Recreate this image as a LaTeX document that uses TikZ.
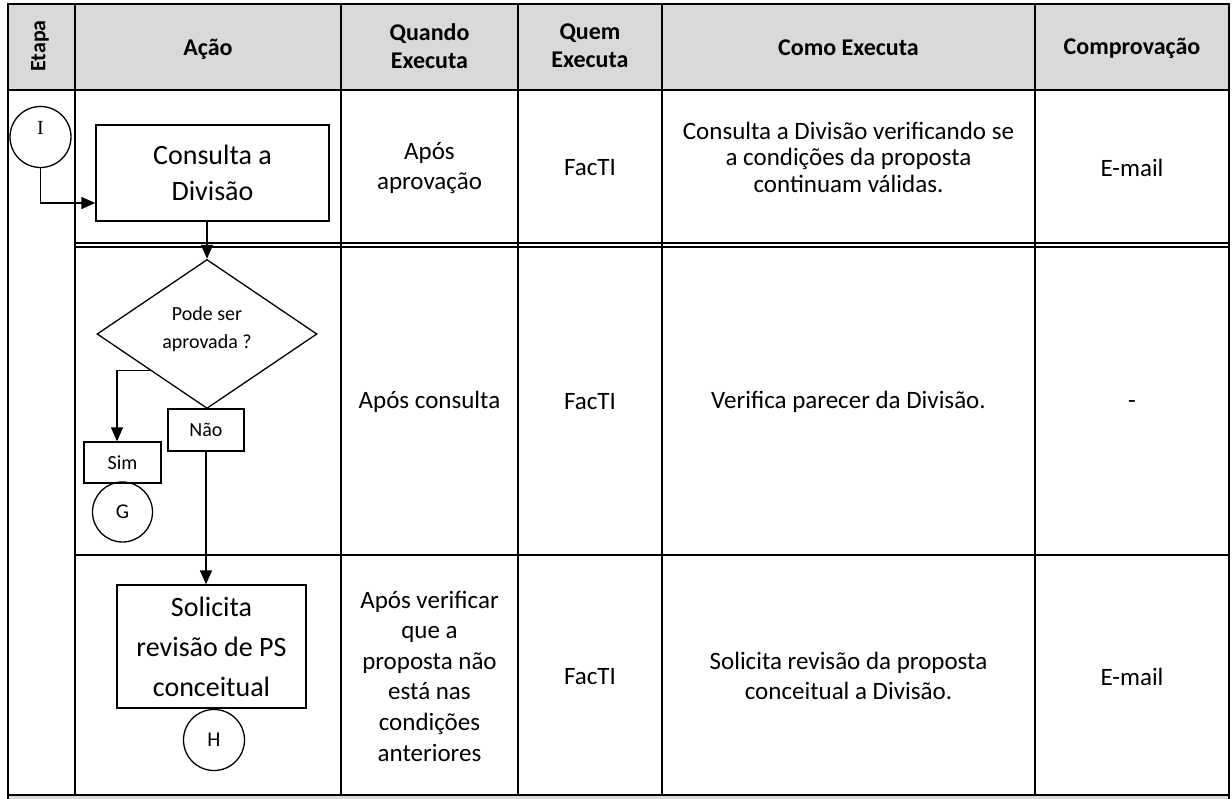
\documentclass[tikz,border=0pt]{standalone}
\usepackage{fontspec}
\setmainfont{Carlito}
\newfontfamily\serifI{Liberation Serif}
\usetikzlibrary{shapes.geometric,arrows.meta,calc}
\definecolor{hdrgray}{HTML}{D9D9D9}
\begin{document}
\begin{tikzpicture}[x=1pt,y=-1pt,
  gridline/.style={line width=2pt,line cap=rect},
  flowbox/.style={draw,line width=1.3pt,inner sep=0pt,align=center},
  term/.style={draw,circle,line width=1.3pt,inner sep=0pt,minimum size=61pt},
  arr/.style={line width=1.5pt,-{Triangle[length=14pt,width=12pt]}},
  hdr/.style={font=\fontsize{24}{28}\selectfont\bfseries,align=center,inner sep=0pt},
  body/.style={font=\fontsize{25}{30}\selectfont,align=center,inner sep=0pt},
]
\useasboundingbox (0,0) rectangle (1232,799);
% fills
\fill[hdrgray] (8,4) rectangle (1229,90);
\fill[hdrgray] (8,795) rectangle (1229,799);
% table grid
\draw[gridline] (8,4) -- (1229,4);
\draw[gridline] (8,90) -- (1229,90);
\draw[line width=1.3pt] (75,243) -- (1229,243);
\draw[line width=1.3pt] (75,247) -- (1229,247);
\draw[gridline] (75,555) -- (1229,555);
\draw[gridline] (8,795) -- (1229,795);
\draw[gridline] (8,4) -- (8,799);
\draw[gridline] (1229,4) -- (1229,799);
\foreach \cx in {75,341,518,662,1035} {\draw[gridline] (\cx,4) -- (\cx,795);}
% headers
\node[hdr,rotate=90,font=\fontsize{22}{24}\selectfont\bfseries] (hEtapa) at (40,46) {Etapa};
\node[hdr] (hAcao) at (208,49) {Ação};
\node[hdr] (hQuando) at (429.5,46) {Quando\\Executa};
\node[hdr] (hQuem) at (590,46) {Quem\\Executa};
\node[hdr] (hComo) at (848.5,48) {Como Executa};
\node[hdr] (hComp) at (1132,48) {Comprovação};
% flow
\node[term] (I) at (40.5,137) {};
\node[font=\serifI\fontsize{20}{22}\selectfont,inner sep=0pt] (Itxt) at (40.5,128) {I};
\node[flowbox,minimum width=233pt,minimum height=96pt,font=\fontsize{28}{36}\selectfont] (consulta) at (212.5,173) {Consulta a\\Divisão};
\node[diamond,draw,line width=1.3pt,inner sep=0pt,minimum width=220pt,minimum height=149pt] (decisao) at (207,334) {};
\node[align=center,inner sep=0pt,font=\fontsize{20}{28}\selectfont] (decisaotxt) at (207,329) {Pode ser\\aprovada ?};
\node[flowbox,minimum width=77pt,minimum height=41pt,font=\fontsize{20}{24}\selectfont] (sim) at (122.5,462.5) {Sim};
\node[flowbox,minimum width=76pt,minimum height=42pt,font=\fontsize{20}{24}\selectfont] (nao) at (206,430) {Não};
\node[term,minimum size=60pt,font=\fontsize{21}{24}\selectfont] (G) at (122.5,512) {G};
\node[flowbox,minimum width=189pt,minimum height=123pt,font=\fontsize{28}{40}\selectfont] (solicita) at (211.5,646.5) {Solicita\\revisão de PS\\conceitual};
\node[term,font=\fontsize{21}{24}\selectfont] (H) at (214,740) {H};
% connectors
\draw[arr] (I.south) |- ([yshift=-30pt]consulta.west);
\draw[arr] (decisao.north |- consulta.south) -- (decisao.north);
\coordinate (simstart) at ($(decisao.west)!0.486!(decisao.south)$);
\draw[arr] (simstart) -| ([xshift=-5.5pt]sim.north);
\draw[arr] (nao.south) -- (nao.south |- solicita.north);
% row 1
\node[body] (q1) at (429.5,168) {Após\\aprovação};
\node[body] (w1) at (590,168) {FacTI};
\node[body,font=\fontsize{25}{26.5}\selectfont] (c1) at (848.5,157) {Consulta a Divisão verificando se\\a condições da proposta\\continuam válidas.};
\node[body] (p1) at (1132,168) {E-mail};
% row 2
\node[body] (q2) at (429.5,402) {Após consulta};
\node[body] (w2) at (590,402) {FacTI};
\node[body] (c2) at (848.5,402) {Verifica parecer da Divisão.};
\node[body] (p2) at (1132,405) {-};
% row 3
\node[body,font=\fontsize{25}{30.6}\selectfont] (q3) at (429.5,676) {Após verificar\\que a\\proposta não\\está nas\\condições\\anteriores};
\node[body] (w3) at (590,677) {FacTI};
\node[body,font=\fontsize{25}{30}\selectfont] (c3) at (848.5,676) {Solicita revisão da proposta\\conceitual a Divisão.};
\node[body] (p3) at (1132,677) {E-mail};
\end{tikzpicture}
\end{document}
